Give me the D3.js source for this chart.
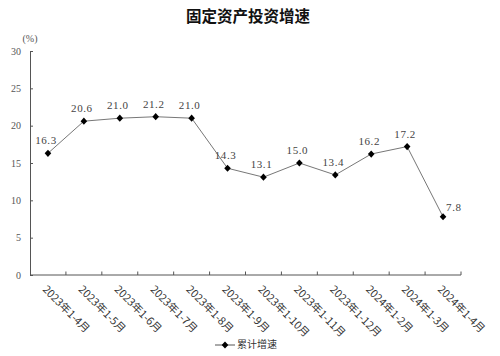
<!DOCTYPE html>
<html><head><meta charset="utf-8">
<script src="https://cdn.jsdelivr.net/npm/d3@7"></script>
<style>body{margin:0;background:#fff}</style>
</head><body>
<svg id="c" width="500" height="356"></svg>
<script>
const categories = ["2023年1-4月","2023年1-5月","2023年1-6月","2023年1-7月","2023年1-8月","2023年1-9月","2023年1-10月","2023年1-11月","2023年1-12月","2024年1-2月","2024年1-3月","2024年1-4月"];
const values = [16.3,20.6,21.0,21.2,21.0,14.3,13.1,15.0,13.4,16.2,17.2,7.8];
const yTicks = [0,5,10,15,20,25,30];
const title = "固定资产投资增速";
const seriesName = "累计增速";
const unit = "(%)";

const svg = d3.select("#c");
const M = {left:30, right:461, top:51, bottom:275};
const x = d3.scaleBand().domain(categories).range([M.left, M.right]);
const y = d3.scaleLinear().domain([0,30]).range([M.bottom, M.top]);
const serif = "'Noto Sans CJK SC', sans-serif";
const numFont = "'Liberation Serif', 'DejaVu Serif', serif";

svg.append("text").attr("x",248).attr("y",22).attr("text-anchor","middle")
  .attr("font-family",serif).attr("font-weight","bold").attr("font-size",15.5).attr("fill","#111").text(title);

svg.append("text").attr("x",30).attr("y",42).attr("text-anchor","middle")
  .attr("font-family",numFont).attr("font-size",10).attr("fill","#555").text(unit);

// y axis
const ya = svg.append("g").attr("transform",`translate(${M.left},0)`)
  .call(d3.axisLeft(y).tickValues(yTicks).tickSize(-3).tickPadding(9).tickSizeOuter(0));
ya.select(".domain").attr("stroke","#555");
ya.selectAll(".tick line").attr("stroke","#555");
ya.selectAll(".tick text").attr("font-family",numFont).attr("font-size",10).attr("fill","#555");

// x axis
const xa = svg.append("g").attr("transform",`translate(0,${M.bottom})`)
  .call(d3.axisBottom(x).tickSize(0).tickFormat(""));
xa.select(".domain").attr("stroke","#555").attr("d",`M${M.left},0H${M.right}`);
const bounds = categories.map(c => x(c) + x.bandwidth());
svg.append("g").selectAll("line").data(bounds).join("line")
  .attr("x1",d=>d).attr("x2",d=>d).attr("y1",M.bottom).attr("y2",M.bottom-3.5)
  .attr("stroke","#555");

svg.append("g").selectAll("text").data(categories).join("text")
  .attr("transform",d=>`translate(${x(d)+x.bandwidth()/2-4},${M.bottom+13}) rotate(45)`)
  .attr("font-family",serif).attr("font-size",10.8).attr("fill","#333")
  .attr("dominant-baseline","middle").text(d=>d);

// line
const cx = d => x(d) + x.bandwidth()/2;
const line = d3.line().x((d,i)=>cx(categories[i])).y(d=>y(d));
svg.append("path").datum(values).attr("d",line).attr("fill","none")
  .attr("stroke","#777").attr("stroke-width",1);

const diamondType = {draw(ctx, size){ const w=3.3, h=3.6; ctx.moveTo(0,-h); ctx.lineTo(w,0); ctx.lineTo(0,h); ctx.lineTo(-w,0); ctx.closePath(); }};
const diamond = d3.symbol().type(diamondType).size(30);
svg.append("g").selectAll("path").data(values).join("path")
  .attr("d",diamond).attr("transform",(d,i)=>`translate(${cx(categories[i])},${y(d)})`)
  .attr("fill","#000");

svg.append("g").selectAll("text").data(values).join("text")
  .attr("x",(d,i)=> i===values.length-1 ? cx(categories[i])+3 : cx(categories[i])-2)
  .attr("y",(d,i)=> i===values.length-1 ? y(d)-6 : y(d)-9)
  .attr("text-anchor",(d,i)=> i===values.length-1 ? "start" : "middle")
  .attr("font-family",numFont).attr("font-size",11).attr("letter-spacing",0.6).attr("fill","#444")
  .text(d=>d.toFixed(1));

// legend
const lg = svg.append("g").attr("transform","translate(0,345)");
lg.append("line").attr("x1",215).attr("x2",235).attr("y1",0).attr("y2",0).attr("stroke","#555");
lg.append("path").attr("d",diamond).attr("transform","translate(225,0)").attr("fill","#000");
lg.append("text").attr("x",237).attr("y",0).attr("dominant-baseline","middle")
  .attr("font-family",serif).attr("font-size",10).attr("fill","#333").text(seriesName);
</script>
</body></html>
